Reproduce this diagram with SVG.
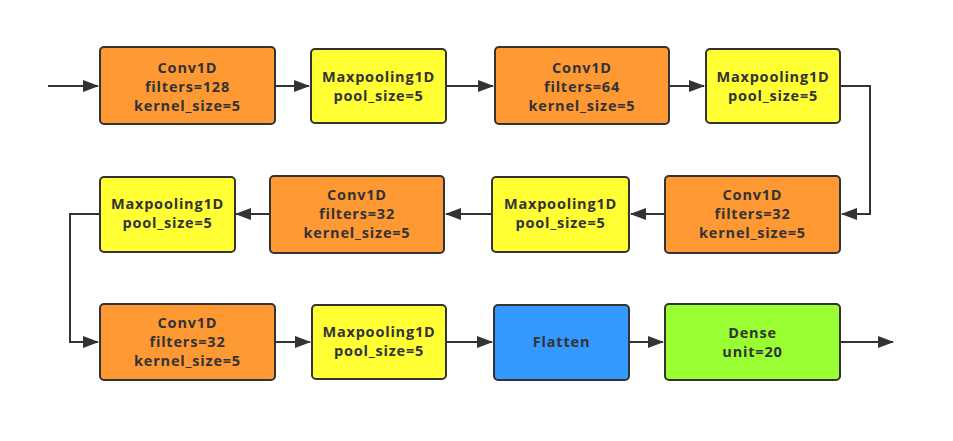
<svg xmlns="http://www.w3.org/2000/svg" width="953" height="441" viewBox="0 0 953 441">
<style>
.n rect{stroke:#333;stroke-width:2;}
.o rect{fill:#FF9933;}
.y rect{fill:#FFFF33;}
.b rect{fill:#3399FF;}
.g rect{fill:#99FF33;}
text{font-family:"Open Sans","Noto Sans","DejaVu Sans",sans-serif;font-weight:bold;font-size:14.5px;letter-spacing:0.8px;fill:#333;text-anchor:middle;}
.c path{fill:none;stroke:#333;stroke-width:2;}
</style>
<defs>
<marker id="a" markerWidth="16" markerHeight="12" refX="15" refY="6" orient="auto" markerUnits="userSpaceOnUse">
<path d="M0,0 L16,6 L0,12 Z" fill="#333"/>
</marker>
</defs>
<rect width="953" height="441" fill="#fff"/>
<g class="c">
<path d="M48,86 H98" marker-end="url(#a)"/>
<path d="M275,86 H309" marker-end="url(#a)"/>
<path d="M446,86 H493" marker-end="url(#a)"/>
<path d="M669,86 H704" marker-end="url(#a)"/>
<path d="M840,86 H870 V214 H842" marker-end="url(#a)"/>
<path d="M665,214 H631" marker-end="url(#a)"/>
<path d="M492,214 H446" marker-end="url(#a)"/>
<path d="M270,214 H236" marker-end="url(#a)"/>
<path d="M100,214 H70 V342 H98" marker-end="url(#a)"/>
<path d="M275,342 H310" marker-end="url(#a)"/>
<path d="M446,342 H492" marker-end="url(#a)"/>
<path d="M629,342 H663" marker-end="url(#a)"/>
<path d="M840,342 H893" marker-end="url(#a)"/>
</g>
<g id="n1" class="n o"><rect x="100" y="47" width="175" height="77" rx="4"/><text x="187.5" y="73">Conv1D</text><text x="187.5" y="92">filters=128</text><text x="187.5" y="111">kernel_size=5</text></g>
<g id="n2" class="n y"><rect x="311" y="49" width="135" height="74" rx="4"/><text x="378.5" y="82">Maxpooling1D</text><text x="378.5" y="101">pool_size=5</text></g>
<g id="n3" class="n o"><rect x="495" y="47" width="174" height="77" rx="4"/><text x="582" y="73">Conv1D</text><text x="582" y="92">filters=64</text><text x="582" y="111">kernel_size=5</text></g>
<g id="n4" class="n y"><rect x="706" y="49" width="134" height="74" rx="4"/><text x="773" y="82">Maxpooling1D</text><text x="773" y="101">pool_size=5</text></g>
<g id="n5" class="n o"><rect x="665" y="176" width="175" height="77" rx="4"/><text x="752.5" y="200">Conv1D</text><text x="752.5" y="219">filters=32</text><text x="752.5" y="238">kernel_size=5</text></g>
<g id="n6" class="n y"><rect x="492" y="177" width="137" height="75" rx="4"/><text x="560.5" y="209">Maxpooling1D</text><text x="560.5" y="228">pool_size=5</text></g>
<g id="n7" class="n o"><rect x="270" y="176" width="174" height="77" rx="4"/><text x="357" y="200">Conv1D</text><text x="357" y="219">filters=32</text><text x="357" y="238">kernel_size=5</text></g>
<g id="n8" class="n y"><rect x="100" y="177" width="135" height="75" rx="4"/><text x="167.5" y="209">Maxpooling1D</text><text x="167.5" y="228">pool_size=5</text></g>
<g id="n9" class="n o"><rect x="100" y="304" width="175" height="76" rx="4"/><text x="187.5" y="328">Conv1D</text><text x="187.5" y="347">filters=32</text><text x="187.5" y="366">kernel_size=5</text></g>
<g id="n10" class="n y"><rect x="312" y="305" width="134" height="74" rx="4"/><text x="379" y="337">Maxpooling1D</text><text x="379" y="356">pool_size=5</text></g>
<g id="n11" class="n b"><rect x="494" y="305" width="135" height="75" rx="4"/><text x="561.5" y="347">Flatten</text></g>
<g id="n12" class="n g"><rect x="665" y="304" width="175" height="76" rx="4"/><text x="752.5" y="338">Dense</text><text x="752.5" y="357">unit=20</text></g>
</svg>
